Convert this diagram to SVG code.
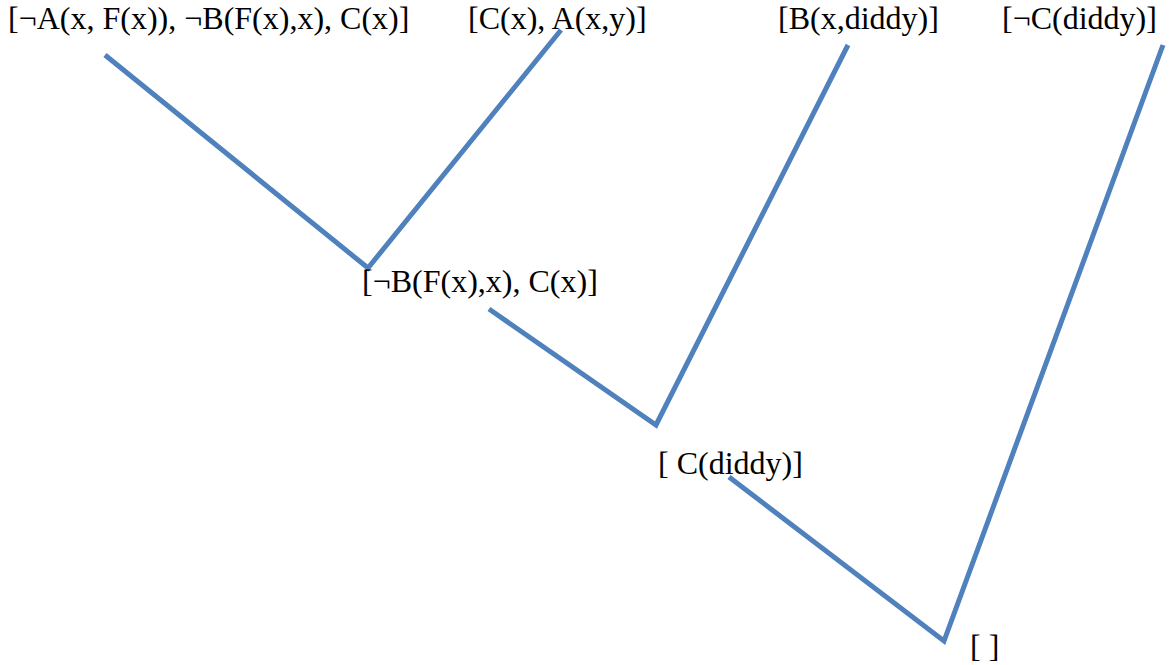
<svg xmlns="http://www.w3.org/2000/svg" width="1169" height="665" viewBox="0 0 1169 665">
<style>
.t{font-family:"Liberation Serif","Times New Roman",serif;font-size:32px;fill:#000}
.c{stroke:#4F81BD;stroke-width:5;fill:none;stroke-linejoin:miter}
</style>
<rect width="1169" height="665" fill="#fff"/>
<g id="connectors">
<polyline class="c" points="105,55 368,268 561,30"/>
<polyline class="c" points="489,309 656,425 848,45"/>
<polyline class="c" points="729,477 944,641 1163,45"/>
</g>
<g id="n1"><text class="t" x="8" y="29">[¬A(x, F(x)), ¬B(F(x),x), C(x)]</text></g>
<g id="n2"><text class="t" x="468" y="29">[C(x), A(x,y)]</text></g>
<g id="n3"><text class="t" x="778" y="29">[B(x,diddy)]</text></g>
<g id="n4"><text class="t" x="1002" y="29">[¬C(diddy)]</text></g>
<g id="n5"><text class="t" x="362" y="292">[¬B(F(x),x), C(x)]</text></g>
<g id="n6"><text class="t" x="658" y="474">[ C(diddy)]</text></g>
<g id="n7"><text class="t" x="970" y="657">[ ]</text></g>
</svg>
